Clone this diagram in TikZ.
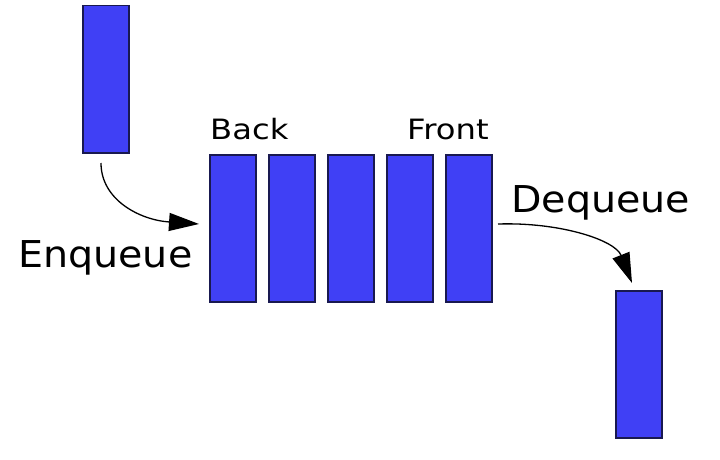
\documentclass[tikz,border=0pt]{standalone}
\usepackage{fontspec}
\setmainfont{DejaVu Sans}
\usetikzlibrary{arrows.meta}
\definecolor{barfill}{RGB}{64,64,245}
\definecolor{barline}{RGB}{25,25,80}
\begin{document}
\begin{tikzpicture}[x=1pt,y=-1pt,
  bar/.style={draw=barline,line width=1.5pt,fill=barfill,minimum width=46pt,minimum height=147pt,inner sep=0pt,anchor=north west},
  biglabel/.style={inner sep=0pt,font=\fontsize{37}{40}\selectfont,anchor=base west,xscale=1.07},
  smalllabel/.style={inner sep=0pt,font=\fontsize{28}{30}\selectfont,anchor=base west,xscale=1.15},
  arr/.style={line width=1.3pt,-{Triangle[length=30pt,width=18pt]}}]
\useasboundingbox (0,0) rectangle (720,460);
\node[bar] (top) at (82,5) {};
\node[bar] (q1) at (209,154) {};
\node[bar] (q2) at (268,154) {};
\node[bar] (q3) at (327,154) {};
\node[bar] (q4) at (386,154) {};
\node[bar] (q5) at (445,154) {};
\node[bar] (out) at (615,290) {};
\node[smalllabel] (back) at (210,139) {Back};
\node[smalllabel] (front) at (407,139) {Front};
\node[biglabel] (enq) at (18,267) {Enqueue};
\node[biglabel] (deq) at (511,212) {Dequeue};
\coordinate (s1) at (101,163);
\coordinate (e1) at (199,224);
\coordinate (s2) at (498,224);
\coordinate (e2) at (632,283);
\draw[arr] (s1) .. controls (101,200) and (140,220) .. (e1);
\draw[arr] (s2) .. controls (560,222) and (615,240) .. (e2);
\end{tikzpicture}
\end{document}
